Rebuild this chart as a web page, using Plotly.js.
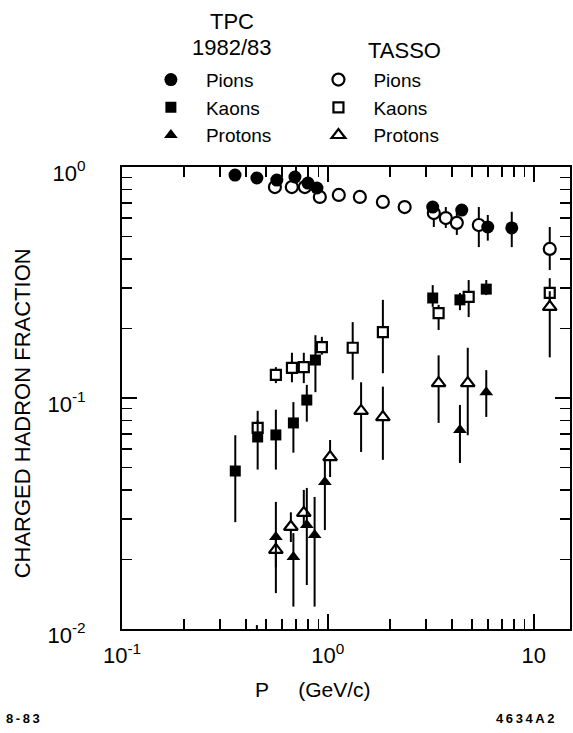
<!DOCTYPE html>
<html>
<head>
<meta charset="utf-8">
<script src="https://cdn.plot.ly/plotly-3.0.1.min.js"></script>
<style>html,body{margin:0;padding:0;background:#fff;}#chart{width:573px;height:733px;}</style>
</head>
<body>
<div id="chart"></div>
<script>
// ---- Data ----
// TPC 1982/83 pions (filled circles)
const tpcPionP   = [0.354, 0.452, 0.565, 0.692, 0.80, 0.885, 3.23, 4.47, 5.98, 7.82];
const tpcPionF   = [0.923, 0.896, 0.878, 0.905, 0.852, 0.811, 0.671, 0.651, 0.550, 0.545];
const tpcPionHi  = [0.923, 0.896, 0.878, 0.905, 0.852, 0.811, 0.700, 0.680, 0.620, 0.640];
const tpcPionLo  = [0.923, 0.896, 0.878, 0.905, 0.852, 0.811, 0.645, 0.620, 0.480, 0.450];
// TPC kaons (filled squares)
const tpcKaonP   = [0.355, 0.456, 0.559, 0.68, 0.79, 0.87, 3.23, 4.38, 5.88];
const tpcKaonF   = [0.0483, 0.0678, 0.0692, 0.078, 0.098, 0.146, 0.271, 0.266, 0.296];
const tpcKaonHi  = [0.069, 0.088, 0.089, 0.096, 0.114, 0.187, 0.308, 0.285, 0.324];
const tpcKaonLo  = [0.029, 0.049, 0.049, 0.058, 0.079, 0.106, 0.248, 0.240, 0.279];
// TPC protons (filled triangles)
const tpcProtP   = [0.559, 0.68, 0.79, 0.862, 0.967, 4.38, 5.88];
const tpcProtF   = [0.0250, 0.0205, 0.0282, 0.0255, 0.0433, 0.0727, 0.106];
const tpcProtHi  = [0.0355, 0.026, 0.0408, 0.0373, 0.054, 0.0933, 0.132];
const tpcProtLo  = [0.0143, 0.0125, 0.0155, 0.0125, 0.0268, 0.0523, 0.0828];
// TASSO pions (open circles)
const tasPionP   = [0.553, 0.668, 0.773, 0.914, 1.13, 1.43, 1.85, 2.36, 3.27, 3.74, 4.23, 5.41, 11.96];
const tasPionF   = [0.819, 0.819, 0.819, 0.742, 0.757, 0.742, 0.706, 0.671, 0.632, 0.601, 0.573, 0.561, 0.442];
const tasPionHi  = [0.85, 0.85, 0.85, 0.77, 0.79, 0.78, 0.74, 0.71, 0.671, 0.671, 0.651, 0.671, 0.55];
const tasPionLo  = [0.79, 0.79, 0.79, 0.715, 0.73, 0.71, 0.68, 0.64, 0.55, 0.545, 0.508, 0.45, 0.358];
// TASSO kaons (open squares)
const tasKaonP   = [0.456, 0.559, 0.669, 0.764, 0.935, 1.32, 1.85, 3.45, 4.83, 11.96];
const tasKaonF   = [0.0742, 0.126, 0.135, 0.136, 0.166, 0.165, 0.193, 0.233, 0.274, 0.285];
const tasKaonHi  = [0.080, 0.136, 0.157, 0.157, 0.184, 0.213, 0.266, 0.253, 0.324, 0.33];
const tasKaonLo  = [0.069, 0.116, 0.117, 0.116, 0.154, 0.12, 0.128, 0.197, 0.224, 0.25];
// TASSO protons (open triangles)
const tasProtP   = [0.452, 0.559, 0.661, 0.764, 1.025, 1.45, 1.85, 3.45, 4.78, 11.96];
const tasProtF   = [0.0097, 0.0220, 0.0277, 0.0318, 0.0555, 0.0879, 0.0827, 0.116, 0.116, 0.248];
const tasProtHi  = [0.0104, 0.026, 0.032, 0.040, 0.0658, 0.117, 0.112, 0.153, 0.165, 0.29];
const tasProtLo  = [0.0085, 0.0185, 0.0238, 0.028, 0.0455, 0.0584, 0.054, 0.078, 0.069, 0.150];

const xTickVals = [0.1, 1, 10];
const xTickText = ['10<sup>-1</sup>', '10<sup>0</sup>', '10'];
const yTickVals = [0.01, 0.1, 1];
const yTickText = ['10<sup>-2</sup>', '10<sup>-1</sup>', '10<sup>0</sup>'];

const FONT = 'Liberation Sans, Arial, sans-serif';

function errs(v, hi, lo) {
  return {
    type: 'data', symmetric: false,
    array: v.map((y, i) => Math.max(hi[i] - y, 0)),
    arrayminus: v.map((y, i) => Math.max(y - lo[i], 0)),
    color: '#000', thickness: 2, width: 0
  };
}
function tr(name, x, y, hi, lo, symbol, open, size, legend) {
  return {
    type: 'scatter', mode: 'markers', name: name, x: x, y: y,
    legend: legend, cliponaxis: false,
    error_y: errs(y, hi, lo),
    marker: { symbol: symbol, size: size, color: open ? '#fff' : '#000',
              line: { color: '#000', width: open ? 2.2 : 0 } }
  };
}

const traces = [
  tr('Pions',   tasPionP, tasPionF, tasPionHi, tasPionLo, 'circle', true, 12, 'legend2'),
  tr('Kaons',   tasKaonP, tasKaonF, tasKaonHi, tasKaonLo, 'square', true, 10, 'legend2'),
  tr('Protons', tasProtP, tasProtF, tasProtHi, tasProtLo, 'triangle-up', true, 12, 'legend2'),
  tr('Pions',   tpcPionP, tpcPionF, tpcPionHi, tpcPionLo, 'circle', false, 13, 'legend'),
  tr('Kaons',   tpcKaonP, tpcKaonF, tpcKaonHi, tpcKaonLo, 'square', false, 11, 'legend'),
  tr('Protons', tpcProtP, tpcProtF, tpcProtHi, tpcProtLo, 'triangle-up', false, 12, 'legend')
];

const axisCommon = {
  type: 'log', showgrid: false, zeroline: false, showline: true, linecolor: '#000', linewidth: 2,
  mirror: 'ticks', ticks: 'inside', ticklen: 15, tickwidth: 2, tickcolor: '#000',
  tickmode: 'array', tickfont: { family: FONT, size: 22, color: '#000' },
  minor: { ticks: 'inside', ticklen: 10, tickwidth: 1.6, tickcolor: '#000', dtick: 'D1', showgrid: false }
};

const legendCommon = {
  bgcolor: 'rgba(0,0,0,0)', borderwidth: 0, orientation: 'v',
  font: { family: FONT, size: 19, color: '#000' },
  traceorder: 'normal', yanchor: 'top', xanchor: 'left', itemwidth: 60,
  tracegroupgap: 0
};

function note(text, x, y, size, angle) {
  return { text: text, xref: 'paper', yref: 'paper', x: x, y: y, xanchor: 'center', yanchor: 'middle',
           textangle: angle || 0, showarrow: false, font: { family: FONT, size: size, color: '#000' } };
}
const ts = '\u2009';

const layout = {
  width: 573, height: 733,
  margin: { l: 122, r: 3, t: 167, b: 104 },
  paper_bgcolor: '#fff', plot_bgcolor: '#fff',
  font: { family: FONT, color: '#000' },
  xaxis: Object.assign({}, axisCommon, {
    range: [-1, Math.log10(15)], tickvals: xTickVals, ticktext: xTickText, ticklabelstandoff: 6
  }),
  yaxis: Object.assign({}, axisCommon, {
    range: [-2, 0], tickvals: yTickVals, ticktext: yTickText, ticklabelstandoff: 30, ticklabelshift: 6
  }),
  legend: Object.assign({}, legendCommon, { x: 0.031, y: 1.23 }),
  legend2: Object.assign({}, legendCommon, { x: 0.405, y: 1.23 }),
  showlegend: true,
  annotations: [
    note('TPC', 0.245, 1.316, 22),
    note('1982/83', 0.245, 1.259, 22),
    note('TASSO', 0.63, 1.252, 22),
    note('CHARGED HADRON FRACTION', -0.223, 0.467, 22, -90),
    note('P\u00a0\u00a0\u00a0\u00a0\u00a0(GeV/c)', 0.426, -0.132, 21),
    note('<b>8' + ts + '-' + ts + '8' + ts + '3</b>', -0.222, -0.193, 13),
    note('<b>4' + ts + '6' + ts + '3' + ts + '4' + ts + 'A' + ts + '2</b>', 0.9, -0.193, 13)
  ]
};

Plotly.newPlot('chart', traces, layout, { displayModeBar: false, staticPlot: true });
</script>
</body>
</html>
